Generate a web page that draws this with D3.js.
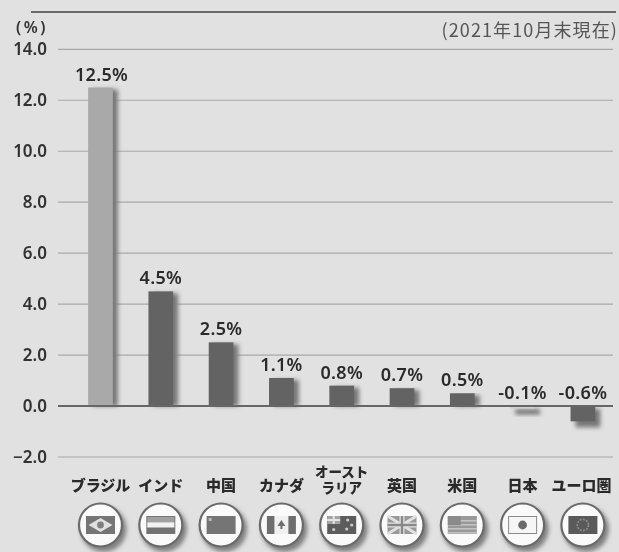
<!DOCTYPE html>
<html>
<head>
<meta charset="utf-8">
<script src="https://d3js.org/d3.v7.min.js"></script>
<style>
  html, body { margin: 0; padding: 0; background: #e1e1e1; }
  svg { display: block; }
  text { font-family: "Noto Sans CJK JP", "Noto Sans", sans-serif; }
</style>
</head>
<body>
<svg width="619" height="552"></svg>
<script>
var categories = ["ブラジル", "インド", "中国", "カナダ", "オーストラリア", "英国", "米国", "日本", "ユーロ圏"];
var values = [12.5, 4.5, 2.5, 1.1, 0.8, 0.7, 0.5, -0.1, -0.6];
var barColors = ["#a9a9a9", "#636363", "#636363", "#636363", "#636363", "#636363", "#636363", "#d0d0d0", "#636363"];
var yTicks = [14, 12, 10, 8, 6, 4, 2, 0, -2];
var flags = ["br", "in", "cn", "ca", "au", "gb", "us", "jp", "eu"];

var svg = d3.select("svg");
var defs = svg.append("defs");

// slight softness, the reference is a scanned image
defs.append("filter").attr("id", "soft").append("feGaussianBlur").attr("stdDeviation", 0.7);
defs.append("filter").attr("id", "shadow")
    .attr("x", "-50%").attr("width", "200%").attr("y", "-20%").attr("height", "150%")
    .append("feGaussianBlur").attr("stdDeviation", 2.2);

var x = d3.scaleBand().domain(categories).range([70.35, 613.05]).paddingInner(0.59).paddingOuter(0.295);
var y = d3.scaleLinear().domain([-2, 14]).range([457, 49.3]);

var g = svg.append("g").attr("filter", "url(#soft)");

// rule under the (cropped) title
g.append("line").attr("x1", 31).attr("x2", 616).attr("y1", 12).attr("y2", 12)
  .attr("stroke", "#6a6a6a").attr("stroke-width", 1.8);

var yaxis = d3.axisLeft(y).tickValues(yTicks).tickSize(0).tickPadding(0).tickFormat(d3.format(".1f"));

g.append("g")
  .attr("transform", "translate(47,0)")
  .call(yaxis)
  .call(function (a) {
    a.select(".domain").remove();
    a.selectAll("text")
      .style("font-size", "17px")
      .style("font-weight", "600")
      .style("font-family", "'Noto Sans', sans-serif")
      .style("fill", "#333");
  });

// gridlines
g.append("g").selectAll("line").data(yTicks.filter(function (d) { return d !== 0; }))
  .enter().append("line")
  .attr("x1", 58).attr("x2", 613)
  .attr("y1", function (d) { return y(d); }).attr("y2", function (d) { return y(d); })
  .attr("stroke", "#a8a8a8").attr("stroke-width", 1.2);

// bar shadows
g.append("g").selectAll("rect").data(values).enter().append("rect")
  .attr("x", function (d, i) { return x(categories[i]) + 5; })
  .attr("y", function (d) { return d >= 0 ? y(d) + 2 : y(0) + 3; })
  .attr("width", x.bandwidth())
  .attr("height", function (d) { return Math.abs(y(d) - y(0)) + (d < 0 ? 3 : -2); })
  .attr("fill", "#777")
  .attr("filter", "url(#shadow)");

// bars
g.append("g").selectAll("rect").data(values).enter().append("rect")
  .attr("x", function (d, i) { return x(categories[i]); })
  .attr("y", function (d) { return y(Math.max(d, 0)); })
  .attr("width", x.bandwidth())
  .attr("height", function (d) { return Math.abs(y(d) - y(0)); })
  .attr("fill", function (d, i) { return barColors[i]; });

// zero line
g.append("line").attr("x1", 58).attr("x2", 613).attr("y1", y(0)).attr("y2", y(0))
  .attr("stroke", "#666").attr("stroke-width", 2);

// value labels
g.append("g").selectAll("text").data(values).enter().append("text")
  .attr("x", function (d, i) { return x(categories[i]) + x.bandwidth() / 2 + (i == 0 ? 1 : 0); })
  .attr("y", function (d) { return y(Math.max(d, 0)) - 7; })
  .attr("text-anchor", "middle")
  .style("font-family", "'Noto Sans', sans-serif")
  .style("font-size", "18px")
  .style("font-weight", "600")
  .style("letter-spacing", "0.3px")
  .style("fill", "#2a2a2a")
  .text(function (d) { return d.toFixed(1) + "%"; });

g.append("text").attr("x", 32).attr("y", 33).attr("text-anchor", "middle")
  .style("font-family", "'Noto Sans', sans-serif").style("font-size", "16px").style("font-weight", "600")
  .style("letter-spacing", "2.5px")
  .style("fill", "#333").text("(%)");

g.append("text").attr("x", 618).attr("y", 37).attr("text-anchor", "end")
  .style("font-size", "18px").style("letter-spacing", "1.1px").style("fill", "#555").text("(2021年10月末現在)");

// category labels, オーストラリア breaks in two lines
var cats = g.append("g").selectAll("text").data(categories).enter().append("text")
  .attr("text-anchor", "middle")
  .attr("y", 491)
  .style("font-size", "15px")
  .style("font-weight", "900")
  .style("fill", "#2a2a2a");
cats.each(function (d) {
  var t = d3.select(this);
  var cx = x(d) + x.bandwidth() / 2;
  if (d === "オーストラリア") {
    t.style("font-size", "13.5px");
    t.append("tspan").attr("x", cx).attr("y", 476.5).text("オースト");
    t.append("tspan").attr("x", cx).attr("y", 492.5).text("ラリア");
  } else {
    t.attr("x", cx - (d === "ユーロ圏" ? 1.5 : 0)).text(d);
  }
});

// flag badges
var badge = svg.append("g").attr("filter", "url(#soft)").selectAll("g").data(flags).enter().append("g")
  .attr("transform", function (d, i) { return "translate(" + (x(categories[i]) + x.bandwidth() / 2) + ",525)"; });

badge.append("circle").attr("cx", 3).attr("cy", 4).attr("r", 23).attr("fill", "#808080").attr("filter", "url(#shadow)");
badge.append("circle").attr("r", 21.5).attr("fill", "#fafafa").attr("stroke", "#6a6a6a").attr("stroke-width", 2.2);

var w = 14.5, h = 9;
function rect(s, a, b, c, d, f) {
  s.append("rect").attr("x", a).attr("y", b).attr("width", c).attr("height", d).attr("fill", f);
}
badge.each(function (d) {
  var s = d3.select(this);
  if (d === "br") {
    rect(s, -w, -h, 2 * w, 2 * h, "#747474");
    s.append("path").attr("d", "M-12,0L0,-7L12,0L0,7Z").attr("fill", "#e0e0e0");
    s.append("circle").attr("r", 3.4).attr("fill", "#808080");
  } else if (d === "in") {
    rect(s, -w, -h, 2 * w, 2 * h, "#777");
    rect(s, -w + 1, -h + 1, 2 * w - 2, 5.3, "#a0a0a0");
    rect(s, -w + 1, -2.7, 2 * w - 2, 5.4, "#f2f2f2");
    rect(s, -w + 1, 2.7, 2 * w - 2, 5.3, "#727272");
  } else if (d === "cn") {
    rect(s, -w, -h, 2 * w, 2 * h, "#747474");
    rect(s, -w + 2, -h + 2, 3, 3, "#b8b8b8");
  } else if (d === "ca") {
    rect(s, -w, -h, 2 * w, 2 * h, "#6e6e6e");
    rect(s, -7, -h, 14, 2 * h, "#f0f0f0");
    s.append("path").attr("d", "M0,-5L4,1L1,1L1,4L-1,4L-1,1L-4,1Z").attr("fill", "#6e6e6e");
  } else if (d === "au") {
    rect(s, -w, -h, 2 * w, 2 * h, "#5c5c5c");
    rect(s, -w, -h, 13, 8, "#a5a5a5");
    rect(s, -w + 5.5, -h, 2, 8, "#e4e4e4");
    rect(s, -w, -h + 3, 13, 2, "#e4e4e4");
    [[-8, 4.5], [6, -5], [10, 0], [5, 4]].forEach(function (p) {
      s.append("circle").attr("cx", p[0]).attr("cy", p[1]).attr("r", 1.6).attr("fill", "#ccc");
    });
  } else if (d === "gb") {
    rect(s, -w, -h, 2 * w, 2 * h, "#999");
    s.append("path").attr("d", "M-14.5,-9L14.5,9M14.5,-9L-14.5,9").attr("stroke", "#e0e0e0").attr("stroke-width", 3);
    rect(s, -w, -2.5, 2 * w, 5, "#e0e0e0");
    rect(s, -2.5, -h, 5, 2 * h, "#e0e0e0");
    rect(s, -w, -1.2, 2 * w, 2.4, "#888");
    rect(s, -1.2, -h, 2.4, 2 * h, "#888");
  } else if (d === "us") {
    rect(s, -w, -h, 2 * w, 2 * h, "#999");
    [-5, -1, 3, 7].forEach(function (o) { rect(s, -w, o, 2 * w, 1.6, "#c4c4c4"); });
    rect(s, -w, -h, 13, 9, "#8a8a8a");
  } else if (d === "jp") {
    rect(s, -w, -h, 2 * w, 2 * h, "#8a8a8a");
    rect(s, -w + 1, -h + 1, 2 * w - 2, 2 * h - 2, "#f6f6f6");
    s.append("circle").attr("r", 4.4).attr("fill", "#6a6a6a");
  } else if (d === "eu") {
    rect(s, -w, -h, 2 * w, 2 * h, "#5a5a5a");
    s.append("circle").attr("r", 5.6).attr("fill", "none").attr("stroke", "#8c8c8c").attr("stroke-width", 1.6).attr("stroke-dasharray", "2 1.2");
  }
});
</script>
</body>
</html>
